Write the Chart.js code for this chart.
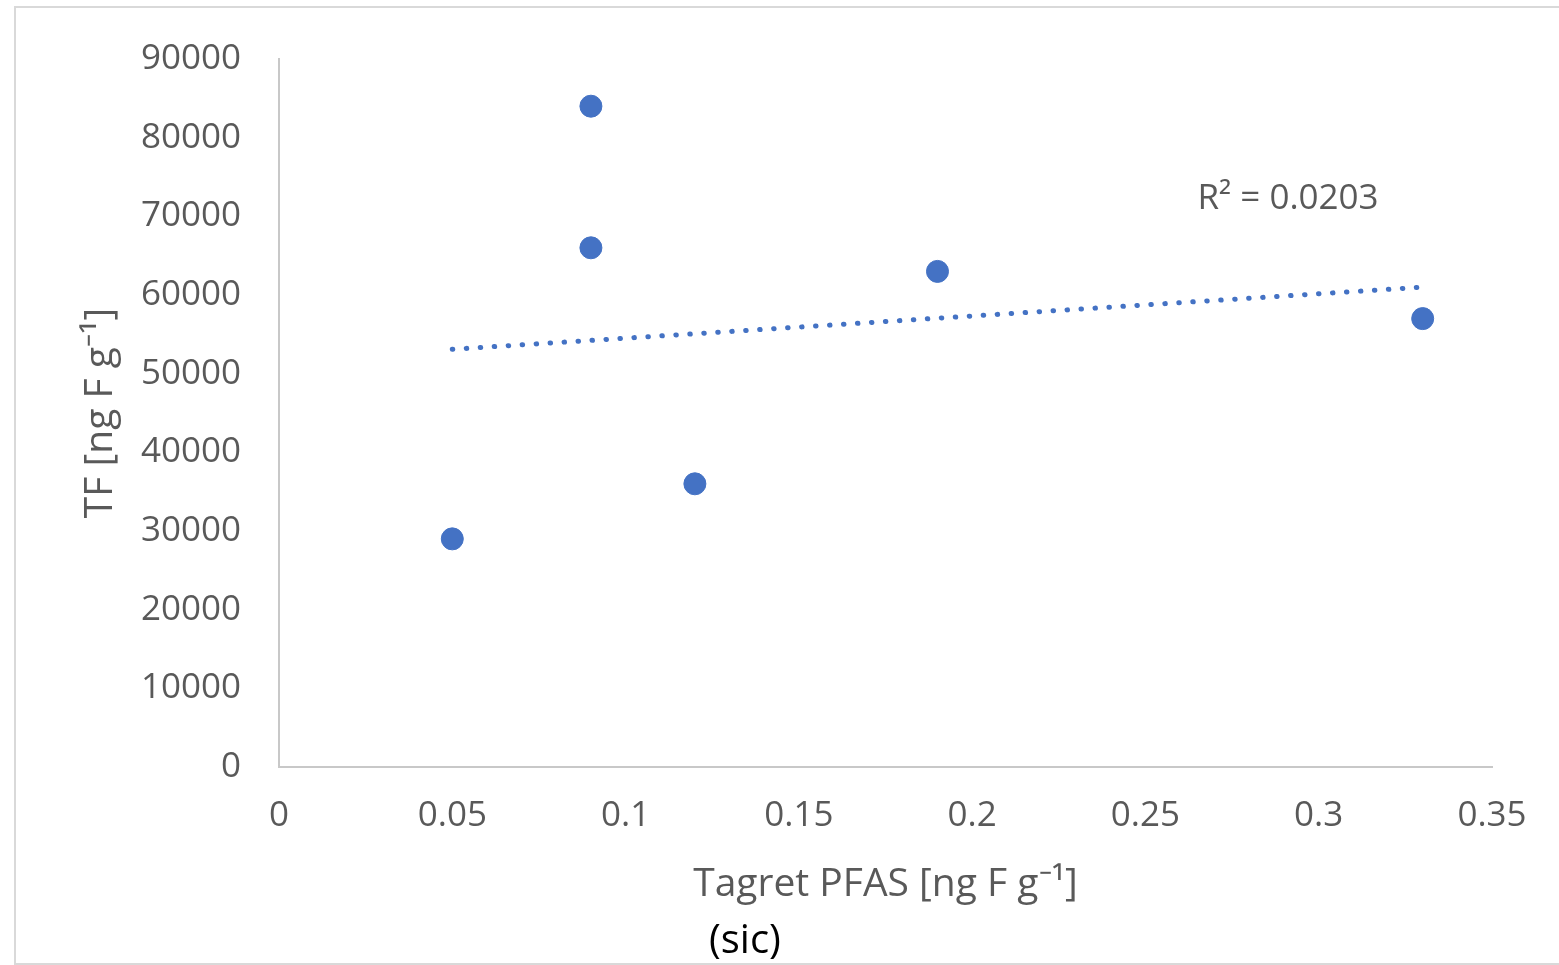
<!DOCTYPE html>
<html>
<head>
  <meta charset="utf-8">
  <script src="https://cdn.jsdelivr.net/npm/chart.js@4"></script>
  <style>
    body { margin: 0; background: #fff; overflow: hidden; }
    .frame { position: absolute; left: 14px; top: 6px; width: 1600px; height: 955px; border: 2px solid #d9d9d9; }
    canvas { position: absolute; left: 0; top: 0; }
    .sic { position: absolute; left: 709px; top: 910px; font: 40px "Open Sans", sans-serif; color: #000; line-height: 56px; }
  </style>
</head>
<body>
  <div class="frame"></div>
  <canvas id="tfChart" width="1559" height="965"></canvas>
  <div class="sic">(sic)</div>

  <script>
    // values
    const pfasX = [0.05, 0.09, 0.09, 0.12, 0.19, 0.33];
    const tfY = [29000, 84000, 66000, 36000, 63000, 57000];
    // dotted linear trendline ends
    const trendX = [0.05, 0.33];
    const trendY = [53100, 61000];
    const rSquared = "0.0203";

    const grey = "#595959";
    const blue = "#4472c4";
    const tickFont = { family: "Open Sans", size: 35 };
    const titleFont = { family: "Open Sans", size: 39 };

    // R² label next to the trendline
    const r2Label = {
      id: "r2Label",
      afterDatasetsDraw(chart) {
        const { ctx, scales: { x, y } } = chart;
        ctx.save();
        ctx.font = '35px "Open Sans"';
        ctx.fillStyle = grey;
        ctx.textBaseline = "middle";
        ctx.fillText("R² = " + rSquared, x.getPixelForValue(0.265), y.getPixelForValue(72200));
        ctx.restore();
      }
    };

    new Chart(document.getElementById("tfChart"), {
      type: "scatter",
      data: {
        datasets: [
          {
            label: "TF",
            data: pfasX.map((v, i) => ({ x: v, y: tfY[i] })),
            backgroundColor: blue,
            borderColor: blue,
            pointRadius: 11,
            order: 1
          },
          {
            label: "Linear (TF)",
            type: "line",
            data: trendX.map((v, i) => ({ x: v, y: trendY[i] })),
            borderColor: blue,
            borderWidth: 5,
            borderDash: [0.5, 13.5],
            borderCapStyle: "round",
            pointRadius: 0,
            fill: false,
            order: 2
          }
        ]
      },
      options: {
        responsive: false,
        animation: false,
        devicePixelRatio: 1,
        layout: { padding: { left: 0, top: 55, right: 67, bottom: 0 } },
        scales: {
          x: {
            type: "linear",
            min: 0,
            max: 0.35,
            grid: { display: false, drawTicks: false },
            border: { display: true, color: "#c8c8c8", width: 2 },
            ticks: {
              stepSize: 0.05,
              color: grey,
              font: tickFont,
              padding: 28,
              maxRotation: 0,
              callback: v => Number(v.toFixed(2)).toString()
            },
            title: {
              display: true,
              text: "Tagret PFAS [ng F g⁻¹]",
              color: grey,
              font: titleFont,
              padding: { top: 0, bottom: 57 }
            },
            afterFit: s => { s.height = 198; }
          },
          y: {
            min: 0,
            max: 90000,
            grid: { display: false, drawTicks: false },
            border: { display: true, color: "#c8c8c8", width: 2 },
            ticks: {
              stepSize: 10000,
              color: grey,
              font: tickFont,
              padding: 38,
              callback: v => v.toString()
            },
            title: {
              display: true,
              text: "TF [ng F g⁻¹]",
              color: grey,
              font: titleFont,
              padding: { top: 77, bottom: 0 }
            },
            afterFit: s => { s.width = 279; }
          }
        },
        plugins: {
          legend: { display: false },
          tooltip: { enabled: false }
        }
      },
      plugins: [r2Label]
    });
  </script>
</body>
</html>
